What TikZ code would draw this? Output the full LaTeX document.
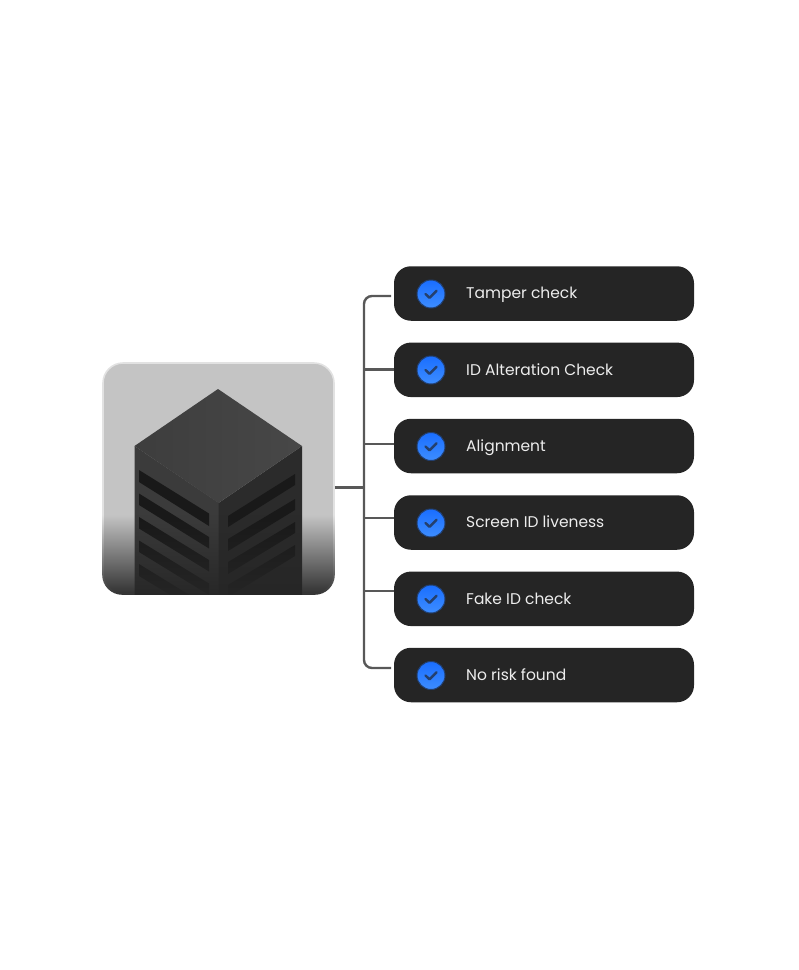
\documentclass[tikz,border=0pt]{standalone}
\usepackage{fontspec}
\setmainfont{Poppins}
\usetikzlibrary{fadings}

\definecolor{pilldark}{HTML}{252525}
\definecolor{wiregray}{HTML}{585858}
\definecolor{tickblue}{HTML}{1A6EFF}
\definecolor{tickpale}{HTML}{3D8DFF}
\definecolor{tickdark}{HTML}{24406E}
\definecolor{cardgray}{HTML}{C4C4C4}
\definecolor{cardrim}{HTML}{E2E2E2}

\tikzfading[name=fade bottom, top color=transparent!100, middle color=transparent!45, bottom color=transparent!5]

\tikzset{
pill/.style={rectangle, rounded corners=17, fill=pilldark, draw=none, minimum width=300, minimum height=54.5, inner sep=0},
tick/.style={circle, top color=tickblue, bottom color=tickpale, draw=tickblue!35!pilldark, line width=1, minimum size=28, inner sep=0,
  path picture={\draw[tickdark, line width=2.4, line cap=round, line join=round] ([shift={(-5.5,0)}]path picture bounding box.center) -- ++(4,3.8) -- ++(7,-7);}},
rowtext/.style={anchor=base west, text=white!93!black, font=\fontsize{15.5}{18}\selectfont, inner sep=0, yshift=-5.4},
wire/.style={draw=wiregray, line width=2.4},
stripe/.style={fill=black!90, draw=none}
}

\begin{document}
\begin{tikzpicture}[x=1pt, y=-1pt]
\useasboundingbox (0,0) rectangle (799,970);

\node (card) at (218.5,478.5) [rectangle, rounded corners=20, fill=cardgray, draw=cardrim, line width=1.6, minimum size=231, inner sep=0] {};

\begin{scope}
\clip [rounded corners=20] (card.south west) rectangle (card.north east);
% walls of the building
\fill[black!77] (134.5,446) -- (219,503) -- (219,600) -- (134.5,600) -- cycle;
\fill[black!83] (218.5,503) -- (302,446) -- (302,600) -- (218.5,600) -- cycle;
% roof
\path[left color=black!76, right color=black!72] (218,389) -- (302,446) -- (218.5,503) -- (134.5,446) -- cycle;
% left floors
\fill[stripe] (139,470) -- (209,513.5) -- (209,526) -- (139,482) -- cycle;
\fill[stripe] (139,493.5) -- (209,537) -- (209,548.5) -- (139,505) -- cycle;
\fill[stripe] (139,517) -- (209,560) -- (209,571.5) -- (139,528.5) -- cycle;
\fill[stripe] (139,540.5) -- (209,583.5) -- (209,595) -- (139,552) -- cycle;
\fill[stripe] (139,564) -- (209,607) -- (209,618.5) -- (139,576) -- cycle;
% right floors
\fill[stripe] (228,516) -- (295,474) -- (295,485) -- (228,527) -- cycle;
\fill[stripe] (228,539) -- (295,499) -- (295,510) -- (228,551) -- cycle;
\fill[stripe] (228,562) -- (295,522) -- (295,533) -- (228,574) -- cycle;
\fill[stripe] (228,585) -- (295,545) -- (295,556) -- (228,597) -- cycle;
% fade at the foot of the card
\fill[black!85, path fading=fade bottom] (100,515) rectangle (340,596);
\end{scope}

\node (tamper) at (544,293.5) [pill] {};
\node (idalter) at (544,369.8) [pill] {};
\node (align) at (544,446) [pill] {};
\node (screen) at (544,522.5) [pill] {};
\node (fake) at (544,598.8) [pill] {};
\node (norisk) at (544,675) [pill] {};

\node (tick1) at (431,294) [tick] {};
\node (tick2) at (431,370) [tick] {};
\node (tick3) at (431,446.5) [tick] {};
\node (tick4) at (431,523) [tick] {};
\node (tick5) at (431,599) [tick] {};
\node (tick6) at (431,675.5) [tick] {};

\node (text1) at (466,293.5) [rowtext] {Tamper check};
\node (text2) at (466,369.8) [rowtext] {ID Alteration Check};
\node (text3) at (466,446) [rowtext] {Alignment};
\node (text4) at (466,522.5) [rowtext] {Screen ID liveness};
\node (text5) at (466,598.8) [rowtext] {Fake ID check};
\node (text6) at (466,675) [rowtext] {No risk found};

\coordinate (hub) at (364,487.5);
\coordinate (endtop) at (391,296);
\coordinate (endlow) at (391,668);
\coordinate (j2) at (364,369.5);
\coordinate (j3) at (364,444);
\coordinate (j4) at (364,517.7);
\coordinate (j5) at (364,591);

\draw[wire, rounded corners=8] (endtop) -- (hub |- endtop) -- (hub |- endlow) -- (endlow);
\draw[wire] (hub -| card.east) -- (hub);
\draw[wire] (j2) -- (j2 -| idalter.west);
\draw[wire] (j3) -- (j3 -| align.west);
\draw[wire] (j4) -- (j4 -| screen.west);
\draw[wire] (j5) -- (j5 -| fake.west);
\end{tikzpicture}
\end{document}
